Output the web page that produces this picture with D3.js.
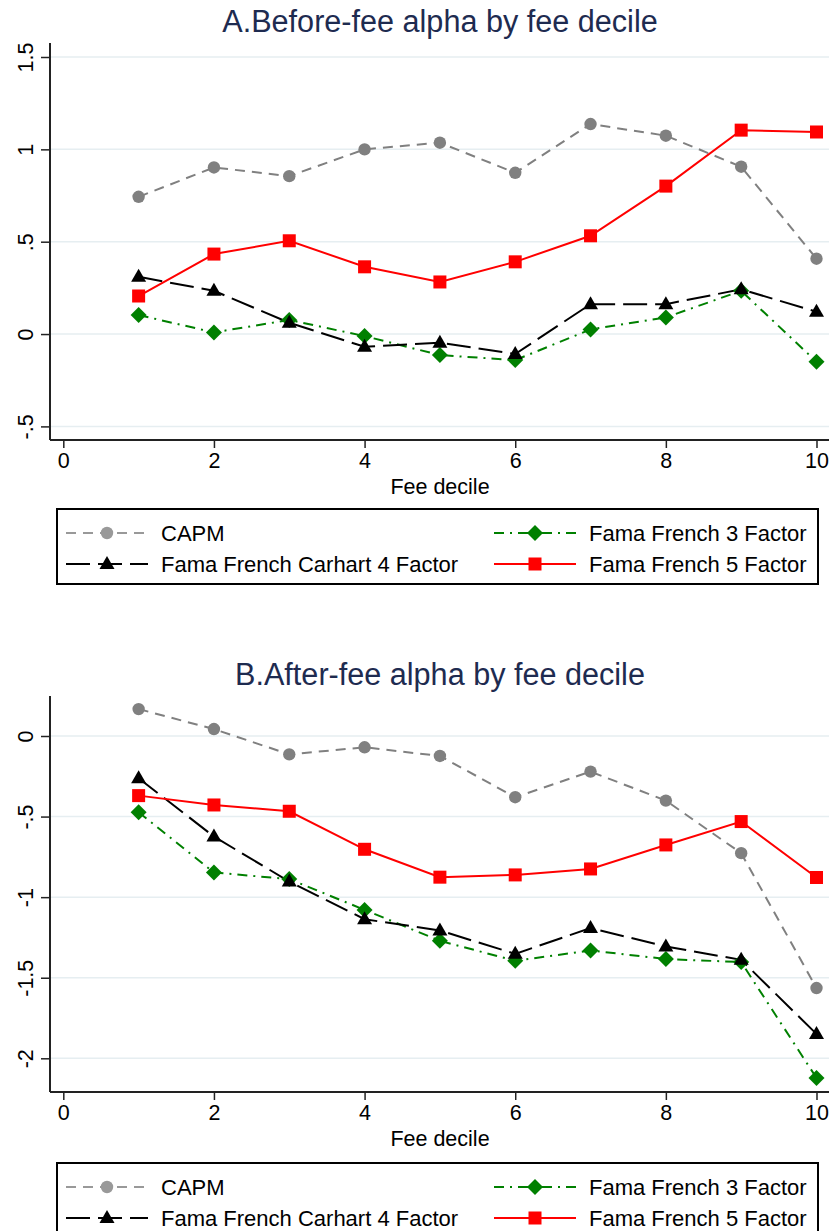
<!DOCTYPE html>
<html>
<head>
<meta charset="utf-8">
<script src="https://cdn.jsdelivr.net/npm/d3@7"></script>
<style>
  html, body { margin: 0; padding: 0; background: #fff; }
  svg { display: block; font-family: "Liberation Sans", Arial, sans-serif; }
</style>
</head>
<body>
<svg id="chart" width="829" height="1231"></svg>
<script>
// ---------- data ----------
const deciles = [1, 2, 3, 4, 5, 6, 7, 8, 9, 10];

const capmBefore = [0.743, 0.902, 0.855, 1.000, 1.036, 0.873, 1.137, 1.074, 0.906, 0.408];
const ff3Before  = [0.103, 0.009, 0.076, -0.011, -0.114, -0.141, 0.025, 0.090, 0.234, -0.150];
const ff4Before  = [0.310, 0.234, 0.061, -0.069, -0.047, -0.108, 0.162, 0.162, 0.242, 0.121];
const ff5Before  = [0.206, 0.433, 0.505, 0.364, 0.282, 0.391, 0.532, 0.801, 1.104, 1.094];

const capmAfter = [0.167, 0.043, -0.114, -0.070, -0.124, -0.380, -0.221, -0.401, -0.727, -1.564];
const ff3After  = [-0.473, -0.847, -0.888, -1.079, -1.271, -1.395, -1.331, -1.384, -1.403, -2.122];
const ff4After  = [-0.262, -0.624, -0.903, -1.137, -1.207, -1.352, -1.192, -1.306, -1.389, -1.849];
const ff5After  = [-0.370, -0.428, -0.467, -0.703, -0.876, -0.862, -0.825, -0.676, -0.531, -0.878];

const seriesNames = ["CAPM", "Fama French 3 Factor", "Fama French Carhart 4 Factor", "Fama French 5 Factor"];
const panelTitles = ["A.Before-fee alpha by fee decile", "B.After-fee alpha by fee decile"];
const xAxisTitle = "Fee decile";
const xTicks = [0, 2, 4, 6, 8, 10];
const yTicksA = [-0.5, 0, 0.5, 1, 1.5];
const yTicksB = [-2, -1.5, -1, -0.5, 0];

// ---------- styles ----------
const styles = {
  "CAPM": { color: "#808080", legendColor: "#999999", dash: "10,7", marker: "circle" },
  "Fama French 3 Factor": { color: "#008000", legendColor: "#008000", dash: "10,6,2,6", marker: "diamond" },
  "Fama French Carhart 4 Factor": { color: "#000000", legendColor: "#000000", dash: "24,8", marker: "triangle" },
  "Fama French 5 Factor": { color: "#ff0000", legendColor: "#ff0000", dash: null, marker: "square" }
};

const svg = d3.select("#chart");
const fmt = v => {
  if (v === 0) return "0";
  let s = String(v);
  return s.replace(/^(-?)0\./, "$1.");
};

function drawMarker(g, type, x, y, color) {
  if (type === "circle") {
    g.append("circle").attr("cx", x).attr("cy", y).attr("r", 6.2).attr("fill", color);
  } else if (type === "square") {
    g.append("rect").attr("x", x - 6.5).attr("y", y - 6.5).attr("width", 13).attr("height", 13).attr("fill", color);
  } else if (type === "diamond") {
    const r = 8;
    g.append("path").attr("d", `M${x},${y - r}L${x + r},${y}L${x},${y + r}L${x - r},${y}Z`).attr("fill", color);
  } else if (type === "triangle") {
    g.append("path").attr("d", `M${x},${y - 8}L${x + 7.5},${y + 5}L${x - 7.5},${y + 5}Z`).attr("fill", color);
  }
}

function drawPanel(cfg) {
  const g = svg.append("g");
  const x = d3.scaleLinear().domain([-0.1766, 10.166]).range([50, 829]);
  const y = d3.scaleLinear().domain(cfg.yDomain).range(cfg.yRange);

  // title
  g.append("text").attr("x", 440).attr("y", cfg.titleY).attr("text-anchor", "middle")
    .attr("font-size", 30.6).attr("fill", "#1e2b50").text(cfg.title);

  // gridlines
  g.selectAll(".grid").data(cfg.yTicks).enter().append("line")
    .attr("x1", 50).attr("x2", 829)
    .attr("y1", d => y(d)).attr("y2", d => y(d))
    .attr("stroke", "#e6eef1").attr("stroke-width", 1.5);

  // y axis
  const yAxis = d3.axisLeft(y).tickValues(cfg.yTicks).tickSize(9).tickFormat(fmt);
  const ya = g.append("g").attr("transform", "translate(50,0)").call(yAxis);
  ya.select(".domain").remove();
  ya.append("line").attr("x1", 0).attr("x2", 0).attr("y1", cfg.plotTop).attr("y2", cfg.plotBottom)
    .attr("stroke", "#222").attr("stroke-width", 2);
  ya.selectAll(".tick line").attr("stroke", "#222").attr("stroke-width", 1.5);
  ya.selectAll(".tick text")
    .attr("font-size", 21.5).attr("fill", "#000").attr("font-family", "Liberation Sans, Arial, sans-serif")
    .attr("x", 0).attr("dy", 0)
    .attr("text-anchor", "middle")
    .attr("transform", "translate(-17,0) rotate(-90)");

  // x axis
  const xAxis = d3.axisBottom(x).tickValues(xTicks).tickSize(8).tickFormat(d3.format("d"));
  const xa = g.append("g").attr("transform", `translate(0,${cfg.plotBottom})`).call(xAxis);
  xa.select(".domain").remove();
  xa.append("line").attr("x1", 50).attr("x2", 829).attr("y1", 0).attr("y2", 0)
    .attr("stroke", "#222").attr("stroke-width", 2);
  xa.selectAll(".tick line").attr("stroke", "#222").attr("stroke-width", 1.5);
  xa.selectAll(".tick text").attr("font-size", 21.5).attr("fill", "#000")
    .attr("font-family", "Liberation Sans, Arial, sans-serif").attr("y", 13).attr("dy", "0.71em");

  g.append("text").attr("x", 440).attr("y", cfg.plotBottom + 54).attr("text-anchor", "middle")
    .attr("font-size", 21.5).attr("fill", "#000").text(xAxisTitle);

  // series
  const line = d3.line().x((d, i) => x(deciles[i])).y(d => y(d));
  cfg.series.forEach(s => {
    const st = styles[s.name];
    g.append("path").datum(s.values).attr("d", line)
      .attr("fill", "none").attr("stroke", st.color).attr("stroke-width", 2)
      .attr("stroke-dasharray", st.dash);
  });
  cfg.series.forEach(s => {
    const st = styles[s.name];
    const mg = g.append("g");
    s.values.forEach((v, i) => drawMarker(mg, st.marker, x(deciles[i]), y(v), st.color));
  });

  // legend
  const lg = g.append("g");
  lg.append("rect").attr("x", 57).attr("y", cfg.legendTop).attr("width", 761).attr("height", 75)
    .attr("fill", "#fff").attr("stroke", "#000").attr("stroke-width", 2);
  const legendOrder = [
    { name: "CAPM", col: 0, row: 0 },
    { name: "Fama French 3 Factor", col: 1, row: 0 },
    { name: "Fama French Carhart 4 Factor", col: 0, row: 1 },
    { name: "Fama French 5 Factor", col: 1, row: 1 }
  ];
  const colX = [66, 494];
  const rowY = [cfg.legendTop + 24, cfg.legendTop + 55];
  legendOrder.forEach(it => {
    const st = styles[it.name];
    const x0 = colX[it.col], yy = rowY[it.row];
    lg.append("line").attr("x1", x0).attr("x2", x0 + 82).attr("y1", yy).attr("y2", yy)
      .attr("stroke", st.legendColor).attr("stroke-width", 2).attr("stroke-dasharray", st.dash);
    drawMarker(lg, st.marker, x0 + 41, yy, st.legendColor);
    lg.append("text").attr("x", x0 + 95).attr("y", yy).attr("dy", "0.36em")
      .attr("font-size", 22).attr("fill", "#000").text(it.name);
  });
}

drawPanel({
  title: panelTitles[0], titleY: 32,
  yDomain: [-0.5, 1.5], yRange: [426.4, 57], yTicks: yTicksA,
  plotTop: 43, plotBottom: 440, legendTop: 509,
  series: [
    { name: seriesNames[0], values: capmBefore },
    { name: seriesNames[1], values: ff3Before },
    { name: seriesNames[2], values: ff4Before },
    { name: seriesNames[3], values: ff5Before }
  ]
});

drawPanel({
  title: panelTitles[1], titleY: 685,
  yDomain: [-2, 0], yRange: [1058.3, 736], yTicks: yTicksB,
  plotTop: 696, plotBottom: 1092, legendTop: 1163,
  series: [
    { name: seriesNames[0], values: capmAfter },
    { name: seriesNames[1], values: ff3After },
    { name: seriesNames[2], values: ff4After },
    { name: seriesNames[3], values: ff5After }
  ]
});
</script>
</body>
</html>
